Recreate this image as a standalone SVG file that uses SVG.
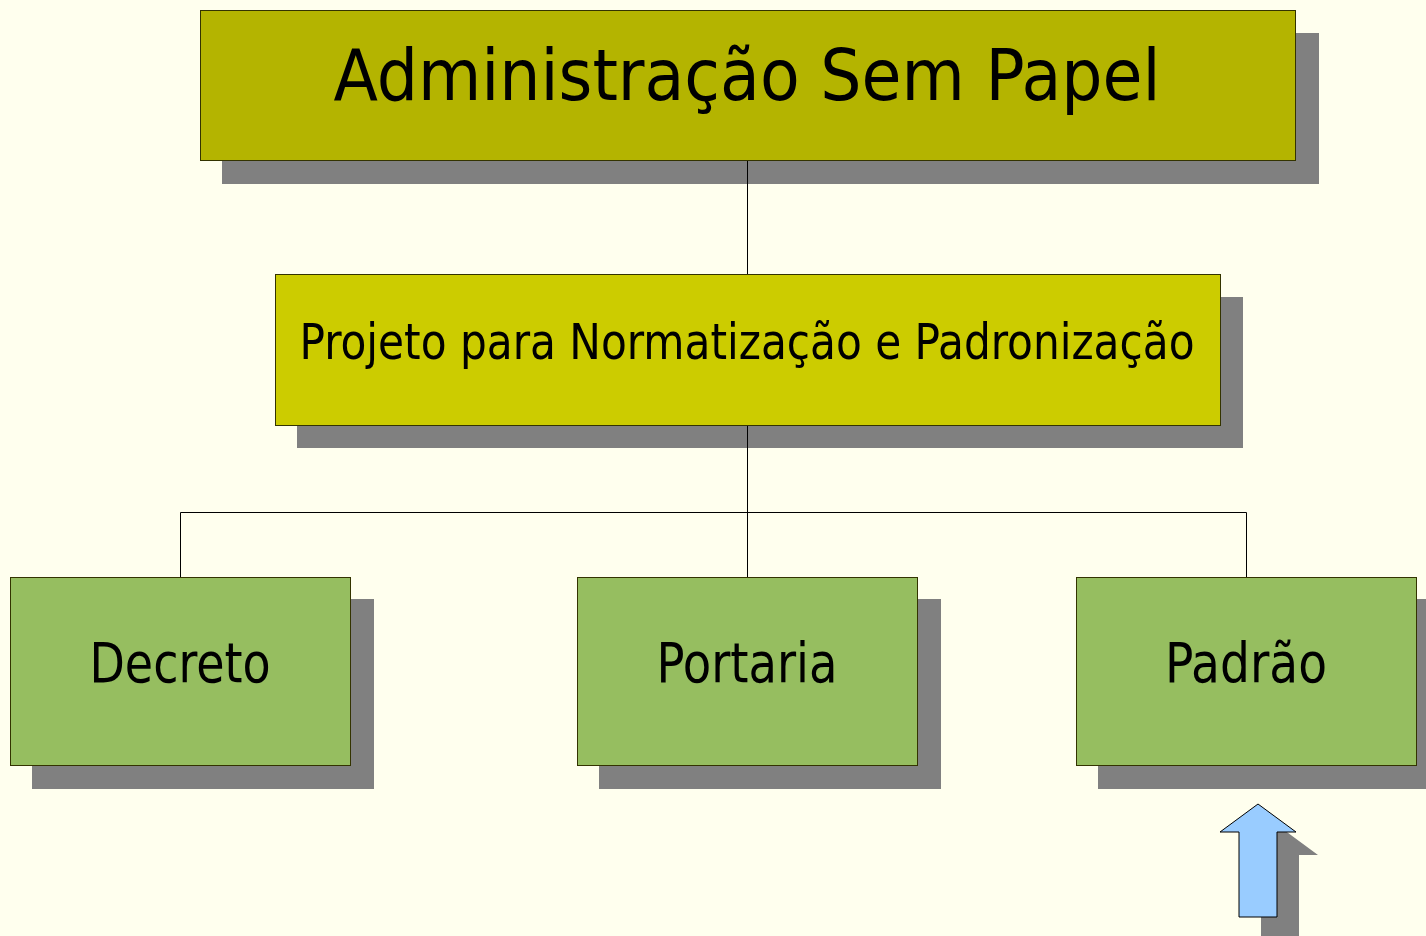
<svg xmlns="http://www.w3.org/2000/svg" width="1426" height="936" viewBox="0 0 1426 936">
<style>
.sh{fill:#808080}
.box{stroke:#333300;stroke-width:1}
.t{font-family:"DejaVu Sans Condensed","DejaVu Sans",sans-serif;fill:#000;text-anchor:middle}
.ln{stroke:#000;stroke-width:1;fill:none}
</style>
<rect width="1426" height="936" fill="#FFFFEE"/>
<g id="title">
<rect class="sh" x="222" y="33" width="1097" height="151"/>
<rect class="box" x="200.5" y="10.5" width="1095" height="150" fill="#B4B400"/>
<text class="t" x="747" y="100" font-size="72" textLength="827" lengthAdjust="spacingAndGlyphs">Administração Sem Papel</text>
</g>
<g id="projeto">
<rect class="sh" x="297" y="297" width="946" height="151"/>
<rect class="box" x="275.5" y="274.5" width="945" height="151" fill="#CCCC00"/>
<text class="t" x="747" y="359" font-size="50" textLength="895" lengthAdjust="spacingAndGlyphs">Projeto para Normatização e Padronização</text>
</g>
<g id="decreto">
<rect class="sh" x="32" y="599" width="342" height="190"/>
<rect class="box" x="10.5" y="577.5" width="340" height="188" fill="#96BE60"/>
<text class="t" x="180" y="682" font-size="56" textLength="181" lengthAdjust="spacingAndGlyphs">Decreto</text>
</g>
<g id="portaria">
<rect class="sh" x="599" y="599" width="342" height="190"/>
<rect class="box" x="577.5" y="577.5" width="340" height="188" fill="#96BE60"/>
<text class="t" x="747" y="682" font-size="56" textLength="181" lengthAdjust="spacingAndGlyphs">Portaria</text>
</g>
<g id="padrao">
<rect class="sh" x="1098" y="599" width="330" height="190"/>
<rect class="box" x="1076.5" y="577.5" width="340" height="188" fill="#96BE60"/>
<text class="t" x="1246" y="682" font-size="56" textLength="162" lengthAdjust="spacingAndGlyphs">Padrão</text>
</g>
<g id="arrow">
<polygon class="sh" points="1280,827 1318,855 1299,855 1299,940 1261,940 1261,855 1242,855"/>
<polygon points="1258,804 1296,832 1277,832 1277,917 1239,917 1239,832 1220,832" fill="#99CCFF" stroke="#000" stroke-width="1"/>
</g>
<g id="connectors">
<path class="ln" d="M747.5 161V274M747.5 426V577M180.5 577V512.5H1246.5V577"/>
</g>
</svg>
